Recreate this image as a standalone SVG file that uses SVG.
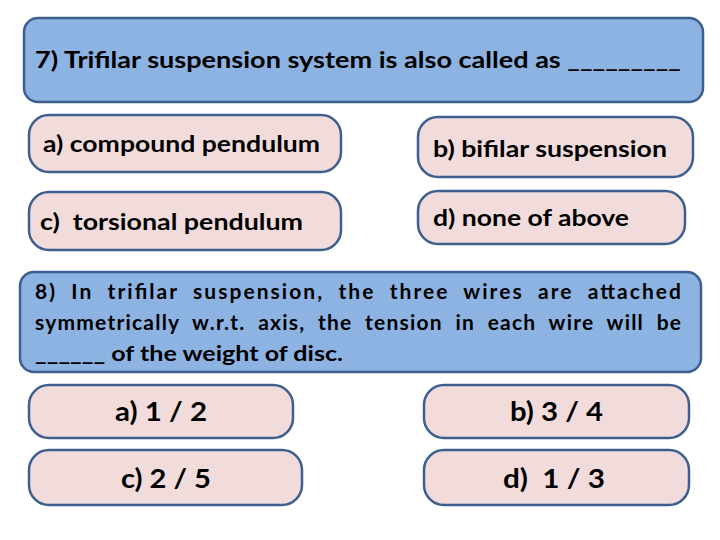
<svg xmlns="http://www.w3.org/2000/svg" width="720" height="540" viewBox="0 0 720 540">
<style>
.q{fill:#8db3e2;stroke:#3d5f8f;stroke-width:2.5}
.o{fill:#f2dcdb;stroke:#3d5f8f;stroke-width:2.5}
text{font-family:Lato,"Open Sans","Liberation Sans",sans-serif;font-weight:bold;fill:#000;white-space:pre}
.t{font-size:23px}
.s{font-size:21px}
.b{font-size:27px}
</style>
<rect width="720" height="540" fill="#fff"/>
<g id="q7"><rect class="q" x="24" y="18" width="679" height="84" rx="14"/><text class="t" x="35" y="68" textLength="646" lengthAdjust="spacingAndGlyphs">7) Trifilar suspension system is also called as _________</text></g>
<g id="q7a"><rect class="o" x="29" y="115" width="312" height="57" rx="20"/><text class="t" x="43" y="152" textLength="277" lengthAdjust="spacingAndGlyphs">a) compound pendulum</text></g>
<g id="q7b"><rect class="o" x="418" y="117" width="275" height="60" rx="20"/><text class="t" x="433" y="157" textLength="234" lengthAdjust="spacingAndGlyphs">b) bifilar suspension</text></g>
<g id="q7c"><rect class="o" x="29" y="192" width="312" height="58" rx="20"/><text class="t" x="40" y="230" xml:space="preserve" textLength="263" lengthAdjust="spacingAndGlyphs">c)  torsional pendulum</text></g>
<g id="q7d"><rect class="o" x="418" y="191" width="267" height="53" rx="20"/><text class="t" x="433" y="226" textLength="196" lengthAdjust="spacingAndGlyphs">d) none of above</text></g>
<g id="q8"><rect class="q" x="20" y="272" width="681" height="100" rx="14"/>
<text class="s" x="35" y="299" textLength="646" lengthAdjust="spacing">8)  In  trifilar  suspension,  the  three  wires  are  attached</text>
<text class="s" x="35" y="330" textLength="646" lengthAdjust="spacing">symmetrically  w.r.t.  axis,  the  tension  in  each  wire  will  be</text>
<text class="s" x="35" y="361" textLength="308" lengthAdjust="spacingAndGlyphs">______ of the weight of disc.</text></g>
<g id="q8a"><rect class="o" x="29" y="385" width="264" height="53" rx="20"/><text class="b" x="115" y="421" textLength="92" lengthAdjust="spacingAndGlyphs">a) 1 / 2</text></g>
<g id="q8b"><rect class="o" x="424" y="385" width="265" height="53" rx="20"/><text class="b" x="510" y="421" textLength="93" lengthAdjust="spacingAndGlyphs">b) 3 / 4</text></g>
<g id="q8c"><rect class="o" x="29" y="450" width="273" height="55" rx="20"/><text class="b" x="121" y="488" textLength="90" lengthAdjust="spacingAndGlyphs">c) 2 / 5</text></g>
<g id="q8d"><rect class="o" x="424" y="450" width="265" height="55" rx="20"/><text class="b" x="503" y="488" xml:space="preserve" textLength="102" lengthAdjust="spacingAndGlyphs">d)  1 / 3</text></g>
</svg>
